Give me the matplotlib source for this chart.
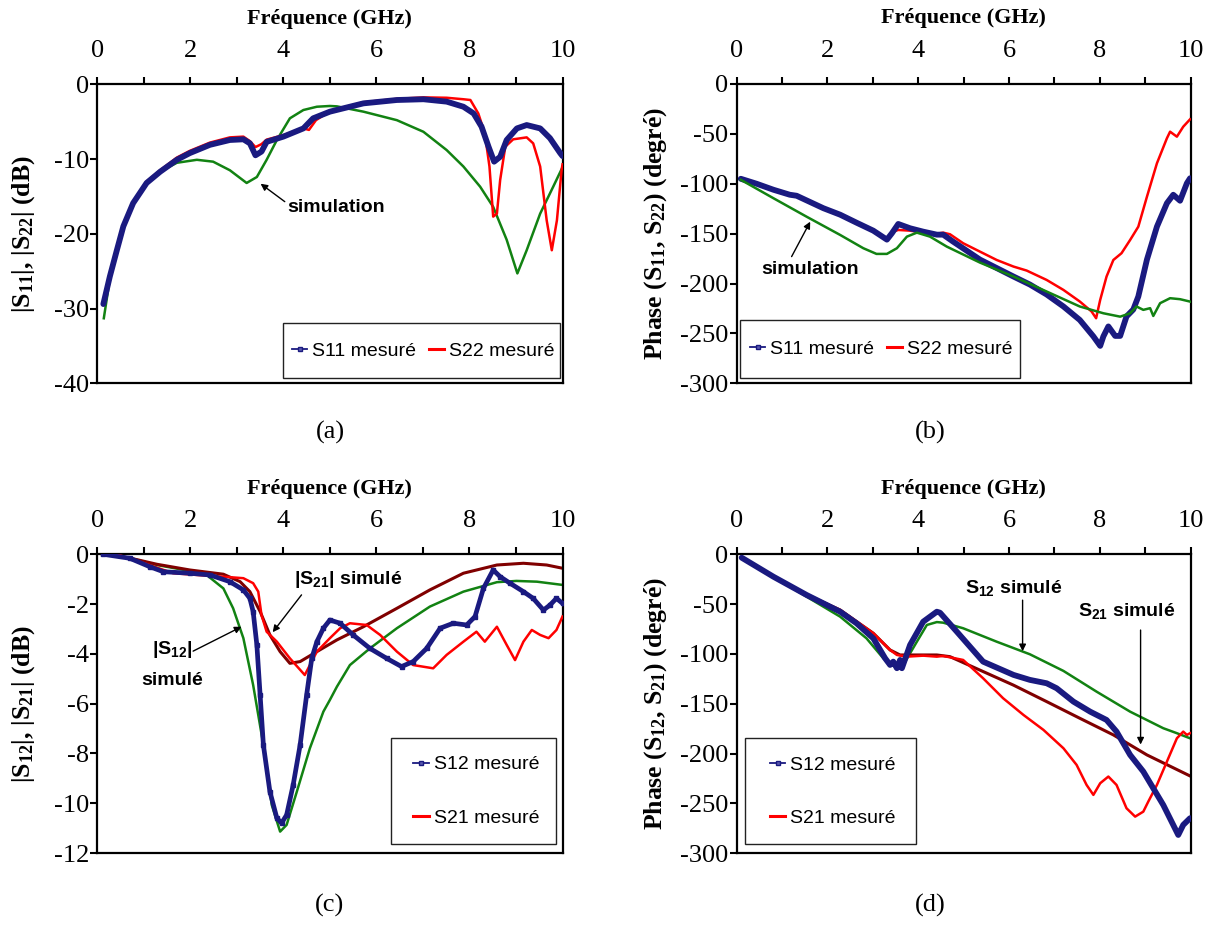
import matplotlib
matplotlib.use("Agg")
import matplotlib.pyplot as plt
from matplotlib.lines import Line2D
from matplotlib.patches import Rectangle

plt.rcParams['axes.unicode_minus'] = False
plt.rcParams['mathtext.fontset'] = 'custom'
plt.rcParams['mathtext.bf'] = 'Liberation Serif:bold'
plt.rcParams['mathtext.rm'] = 'Liberation Serif'
plt.rcParams['mathtext.sf'] = 'Liberation Sans:bold'
SERIF = ['Liberation Serif', 'DejaVu Serif']
SANS = ['Liberation Sans', 'DejaVu Sans']

NAVY = '#1a1a80'
RED = '#ff0000'
GREEN = '#128212'
DRED = '#800000'

# ---- (a) |S11|, |S22| ----
a_f_s11 = [0.13, 0.27, 0.42, 0.56, 0.77, 1.06, 1.35, 1.71, 1.99, 2.42, 2.85, 3.14, 3.28, 3.40, 3.53, 3.64,
           4.0, 4.43, 4.64, 5.0, 5.72, 6.44, 7.01, 7.51, 7.87, 8.09, 8.26, 8.41, 8.53, 8.66, 8.80, 9.02,
           9.23, 9.52, 9.73, 9.95, 10.0]
a_s11 = [-29.4, -25.7, -22.2, -19.0, -15.9, -13.2, -11.7, -10.1, -9.2, -8.1, -7.45, -7.36, -7.9, -9.5, -9.0, -7.7,
         -7.0, -5.9, -4.55, -3.66, -2.55, -2.1, -2.0, -2.32, -3.0, -3.9, -5.67, -8.35, -10.35, -9.7, -7.45, -5.9,
         -5.45, -5.9, -7.2, -9.2, -9.6]
a_f_s22 = [0.13, 0.27, 0.42, 0.56, 0.77, 1.06, 1.35, 1.71, 1.99, 2.42, 2.85, 3.14, 3.28, 3.40, 3.53, 3.64,
           4.0, 4.43, 4.55, 4.7, 5.0, 5.72, 6.44, 7.01, 7.51, 7.87, 8.02, 8.19, 8.33, 8.43, 8.51, 8.59, 8.66,
           8.77, 8.94, 9.23, 9.37, 9.52, 9.66, 9.77, 9.88, 9.98, 10.0]
a_s22 = [-29.5, -25.7, -22.1, -18.9, -15.8, -13.0, -11.5, -9.8, -8.9, -7.8, -7.1, -7.0, -7.6, -8.4, -8.0, -7.4,
         -6.8, -5.9, -6.1, -4.8, -3.6, -2.4, -1.95, -1.75, -1.8, -2.0, -2.1, -3.9, -6.55, -11.0, -17.7, -17.3, -12.8,
         -8.35, -7.36, -7.1, -7.9, -11.0, -18.2, -22.2, -18.2, -11.5, -10.7]
a_f_sim = [0.14, 0.27, 0.42, 0.56, 0.77, 1.06, 1.38, 1.71, 2.14, 2.49, 2.85, 3.21, 3.43, 3.64, 3.86, 4.14, 4.43,
           4.72, 5.0, 5.15, 5.72, 6.44, 7.01, 7.51, 7.87, 8.23, 8.51, 8.80, 9.03, 9.23, 9.52, 9.80, 10.0]
a_sim = [-31.3, -26.0, -22.4, -19.1, -15.9, -13.2, -11.6, -10.5, -10.1, -10.35, -11.5, -13.2, -12.4, -10.1, -7.45,
         -4.55, -3.44, -3.0, -2.9, -2.95, -3.66, -4.8, -6.35, -8.8, -11.0, -13.7, -16.4, -20.8, -25.3, -22.2, -17.3,
         -13.7, -11.1]

# ---- (b) phase S11, S22 ----
b_f_s11 = [0.09, 0.44, 0.81, 1.17, 1.32, 1.91, 2.28, 2.64, 3.01, 3.31, 3.42, 3.56, 3.82, 4.11, 4.41, 4.55, 4.77,
           5.36, 6.10, 6.46, 6.83, 7.20, 7.56, 7.86, 8.01, 8.08, 8.19, 8.34, 8.45, 8.59, 8.74, 8.85, 9.04, 9.26,
           9.48, 9.62, 9.77, 9.92, 9.99]
b_s11 = [-95, -100, -106, -111, -112, -124.5, -131, -139, -147, -156, -149.6, -140.3, -144.6, -148, -151, -151, -158,
         -176, -193, -201, -211, -223, -236.5, -253, -262.5, -253, -243, -252.5, -252.5, -233, -226, -213, -176, -143,
         -119.5, -111, -117, -99.5, -94.5]
b_f_s22 = [0.09, 0.44, 0.81, 1.17, 1.32, 1.91, 2.28, 2.64, 3.01, 3.31, 3.45, 3.56, 3.82, 4.11, 4.41, 4.55, 4.70,
           4.99, 5.36, 5.73, 6.10, 6.39, 6.83, 7.20, 7.56, 7.82, 7.92, 8.01, 8.15, 8.30, 8.48, 8.67, 8.85, 9.04,
           9.26, 9.48, 9.55, 9.70, 9.84, 9.99]
b_s22 = [-95, -100, -106, -111, -112, -124.5, -131, -139, -147, -156, -148, -146.3, -147, -149, -150, -149, -150.6,
         -159.6, -168, -176.4, -183, -187, -196.4, -206.4, -218, -228, -234.8, -216.4, -193, -176.4, -169.6, -156.3,
         -143, -113, -79.5, -54.4, -47.8, -52.8, -42.8, -35.4]
b_f_sim = [0.09, 0.81, 1.54, 2.28, 2.79, 3.08, 3.31, 3.53, 3.75, 3.97, 4.26, 4.63, 5.36, 6.10, 6.83, 7.56, 8.08,
           8.45, 8.67, 8.81, 8.96, 9.11, 9.18, 9.33, 9.55, 9.77, 9.99]
b_sim = [-96, -114.5, -133, -151.3, -164.6, -170.3, -170.3, -164.6, -153, -149, -153, -163, -179, -193, -208, -223,
         -229.8, -233.2, -229.8, -223, -226.4, -224.7, -232.5, -219.7, -214.7, -215.7, -218.1]

# ---- (c) |S12|, |S21| ----
c_f_s12 = [0.13, 0.70, 1.13, 1.42, 1.99, 2.42, 2.85, 3.14, 3.28, 3.35, 3.43, 3.50, 3.57, 3.71, 3.86, 3.96, 4.07,
           4.21, 4.36, 4.50, 4.61, 4.72, 4.86, 5.0, 5.22, 5.50, 5.86, 6.22, 6.54, 6.79, 7.08, 7.37, 7.65, 7.94,
           8.12, 8.30, 8.51, 8.66, 8.87, 9.16, 9.37, 9.59, 9.73, 9.87, 10.0]
c_s12 = [0, -0.16, -0.5, -0.7, -0.76, -0.83, -1.1, -1.43, -1.77, -2.3, -3.64, -5.65, -7.66, -9.53, -10.6, -10.8,
         -10.47, -9.27, -7.66, -5.65, -4.18, -3.51, -2.97, -2.64, -2.77, -3.24, -3.78, -4.18, -4.51, -4.31, -3.78,
         -2.97, -2.77, -2.84, -2.5, -1.37, -0.63, -0.9, -1.16, -1.5, -1.77, -2.24, -2.04, -1.77, -1.97]
c_f_s21 = [0.13, 0.5, 0.92, 1.63, 2.14, 2.71, 3.14, 3.35, 3.46, 3.53, 3.64, 3.86, 4.14, 4.46, 4.57, 4.72, 5.0,
           5.22, 5.43, 5.79, 6.08, 6.44, 6.79, 7.22, 7.51, 7.87, 8.15, 8.33, 8.59, 8.80, 8.98, 9.16, 9.34, 9.52,
           9.70, 9.87, 10.0]
c_s21 = [0, -0.05, -0.3, -0.76, -0.83, -0.9, -0.96, -1.16, -1.5, -2.44, -3.11, -3.51, -4.18, -4.85, -4.45, -3.91,
         -3.37, -2.97, -2.77, -2.84, -3.24, -3.91, -4.45, -4.58, -4.04, -3.51, -3.11, -3.51, -2.91, -3.64, -4.25,
         -3.51, -3.04, -3.24, -3.37, -3.04, -2.5]
c_f_s12sim = [0.13, 0.7, 1.28, 1.99, 2.35, 2.71, 2.92, 3.14, 3.35, 3.57, 3.75, 3.93, 4.07, 4.29, 4.57, 4.86, 5.0,
              5.15, 5.43, 5.86, 6.44, 7.15, 7.87, 8.59, 9.01, 9.45, 10.0]
c_s12sim = [0, -0.15, -0.43, -0.67, -0.83, -1.37, -2.17, -3.37, -5.25, -7.66, -10.07, -11.14, -10.87, -9.53, -7.79,
            -6.32, -5.85, -5.32, -4.45, -3.78, -2.97, -2.1, -1.5, -1.12, -1.07, -1.1, -1.23]
c_f_s21sim = [0.13, 0.7, 1.28, 1.99, 2.71, 3.07, 3.28, 3.50, 3.71, 3.93, 4.14, 4.36, 4.72, 5.15, 5.72, 6.44, 7.15,
              7.87, 8.59, 9.16, 9.66, 10.0]
c_s21sim = [0, -0.15, -0.4, -0.63, -0.8, -1.1, -1.5, -2.3, -3.24, -3.91, -4.38, -4.31, -3.91, -3.44, -2.91, -2.17,
            -1.43, -0.76, -0.43, -0.36, -0.43, -0.56]

# ---- (d) phase S12, S21 ----
d_f_s12 = [0.11, 0.81, 1.54, 2.28, 2.64, 3.01, 3.27, 3.38, 3.45, 3.53, 3.60, 3.64, 3.82, 4.11, 4.41, 4.48, 4.85,
           5.43, 6.10, 6.46, 6.83, 7.05, 7.42, 7.79, 8.15, 8.37, 8.67, 8.96, 9.40, 9.73, 9.84, 9.99]
d_s12 = [-3.4, -22.5, -40.8, -57.6, -69.2, -84.3, -104.3, -111, -107.7, -114.3, -106, -114.3, -91, -67.6, -57.6,
         -58.6, -77.6, -107.7, -121, -126, -129.4, -134.4, -147.8, -157.9, -166.2, -177.9, -201.3, -218, -251.5,
         -281.6, -271.5, -264.8]
d_f_s21 = [0.11, 0.81, 1.54, 2.28, 3.01, 3.38, 3.53, 3.75, 4.11, 4.41, 4.55, 4.99, 5.43, 5.87, 6.32, 6.76, 7.20,
           7.49, 7.71, 7.86, 8.01, 8.19, 8.37, 8.59, 8.78, 8.96, 9.07, 9.26, 9.48, 9.70, 9.84, 9.92, 9.99]
d_s21 = [-3.4, -22.5, -40.5, -55.9, -79.2, -96, -101, -102.7, -101.7, -102.7, -102, -106, -124.4, -144.4, -161.2,
         -176.2, -194.6, -211.3, -231.4, -241.4, -229.7, -223, -231.4, -254.8, -263.2, -258.2, -248.1, -231.4, -208,
         -184.6, -177.9, -181.2, -179.5]
d_f_s12sim = [0.11, 0.81, 1.54, 2.28, 2.86, 3.23, 3.53, 3.67, 3.97, 4.19, 4.41, 4.55, 4.99, 5.73, 6.46, 7.20, 7.93,
              8.67, 9.40, 9.70, 9.99]
d_s12sim = [-3.4, -22.5, -42.5, -62.6, -84.3, -104.3, -114.3, -111, -87.7, -70.9, -68, -68.6, -74.2, -87.7, -100.3,
            -117, -137.8, -157.9, -174.5, -179.5, -184.6]
d_f_s21sim = [0.11, 0.81, 1.54, 2.28, 3.01, 3.38, 3.60, 4.11, 4.41, 4.70, 5.36, 6.10, 6.83, 7.56, 8.30, 9.04, 9.99]
d_s21sim = [-3.4, -22.5, -40.5, -55.9, -79.2, -96, -101, -101, -101, -102.7, -116.2, -131.3, -147.8, -164.5, -181.2,
            -201.3, -222.4]

x_ticks = list(range(0, 11))
x_labels = ['0', '', '2', '', '4', '', '6', '', '8', '', '10']

fig = plt.figure(figsize=(12.12, 9.33), dpi=100)
W, H = 1212.0, 933.0


def make_axes(x0, x1, y0, y1):
    return fig.add_axes([x0 / W, 1 - y1 / H, (x1 - x0) / W, (y1 - y0) / H])


def style(ax, ylim, yticks, ylabel, ylab_x):
    ax.set_xlim(0, 10)
    ax.set_ylim(*ylim)
    ax.xaxis.tick_top()
    ax.set_xticks(x_ticks)
    ax.set_xticklabels(x_labels)
    ax.set_yticks(yticks)
    ax.set_yticklabels([str(v) for v in yticks])
    ax.tick_params(axis='x', direction='out', length=5, width=1.5, pad=11, labelsize=19)
    ax.tick_params(axis='y', direction='out', length=5, width=1.5, pad=1, labelsize=19)
    for lab in ax.get_xticklabels() + ax.get_yticklabels():
        lab.set_family(SERIF)
    for sp in ax.spines.values():
        sp.set_linewidth(1.6)
    ax.text(0.5, 1.22, 'Fréquence (GHz)', transform=ax.transAxes, ha='center', va='center',
            fontsize=16, fontweight='bold', family=SERIF)
    ax.set_ylabel(ylabel, fontsize=18.5, fontweight='bold', family=SERIF)
    ax.yaxis.set_label_coords(ylab_x, 0.5)


def legend_box(ax, labels, x_handle, ys, ncol, box):
    handles = [Line2D([], [], color=NAVY, lw=1.3, marker='s', ms=3.5, mfc='#5a5ab0', mec=NAVY, label=labels[0]),
               Line2D([], [], color=RED, lw=2.2, label=labels[1])]
    leg = ax.legend(handles=handles, ncol=ncol, loc='center left', bbox_to_anchor=(x_handle, ys),
                    frameon=False, borderpad=0, borderaxespad=0, prop={'family': SANS, 'size': 14},
                    handlelength=0.8, handletextpad=0.25, columnspacing=0.65, labelspacing=1.83)
    ax.add_patch(Rectangle((box[0], box[1]), box[2], box[3], transform=ax.transAxes, fill=False,
                           lw=1.0, edgecolor='#222222', clip_on=False, zorder=6))
    return leg


meas_kw = dict(lw=4.2, solid_capstyle='round', zorder=4)
red_kw = dict(lw=1.8, zorder=3)
sim_kw = dict(lw=1.8, zorder=2)
ann_kw = dict(fontsize=14, fontweight='bold', family=SANS)
arr = dict(arrowstyle='-|>', color='black', lw=1.0, mutation_scale=10, shrinkA=0, shrinkB=0)

# (a)
ax = make_axes(97.3, 562.5, 84.3, 383.3)
style(ax, (-40, 0), [0, -10, -20, -30, -40],
      r'|S$\mathbf{_{11}}$|, |S$\mathbf{_{22}}$| (dB)', -0.13)
ax.plot(a_f_sim, a_sim, color=GREEN, **sim_kw)
ax.plot(a_f_s22, a_s22, color=RED, **red_kw)
ax.plot(a_f_s11, a_s11, color=NAVY, **meas_kw)
ax.annotate('', xy=(3.51, -13.3), xytext=(4.03, -15.7), arrowprops=arr)
ax.text(4.08, -16.5, 'simulation', ha='left', va='center', **ann_kw)
legend_box(ax, ['S11 mesuré', 'S22 mesuré'], 0.418, 0.109, 2, (0.40, 0.018, 0.595, 0.184))
fig.text(330 / W, 1 - 432 / H, '(a)', ha='center', va='center', fontsize=19, family=SERIF)

# (b)
ax = make_axes(736.7, 1190.5, 84.0, 383.3)
style(ax, (-300, 0), [0, -50, -100, -150, -200, -250, -300],
      r'Phase (S$\mathbf{_{11}}$, S$\mathbf{_{22}}$) (degré)', -0.15)
ax.plot(b_f_s22, b_s22, color=RED, **red_kw)
ax.plot(b_f_s11, b_s11, color=NAVY, **meas_kw)
ax.plot(b_f_sim, b_sim, color=GREEN, lw=1.8, zorder=5)
ax.annotate('', xy=(1.62, -138), xytext=(1.21, -173), arrowprops=arr)
ax.text(0.55, -186.4, 'simulation', ha='left', va='center', **ann_kw)
legend_box(ax, ['S11 mesuré', 'S22 mesuré'], 0.029, 0.114, 2, (0.007, 0.017, 0.617, 0.195))
fig.text(930 / W, 1 - 432 / H, '(b)', ha='center', va='center', fontsize=19, family=SERIF)

# (c)
ax = make_axes(97.3, 562.5, 554.3, 853.0)
style(ax, (-12, 0), [0, -2, -4, -6, -8, -10, -12],
      r'|S$\mathbf{_{12}}$|, |S$\mathbf{_{21}}$| (dB)', -0.13)
ax.plot(c_f_s12sim, c_s12sim, color=GREEN, **sim_kw)
ax.plot(c_f_s21sim, c_s21sim, color=DRED, lw=2.2, zorder=2)
ax.plot(c_f_s21, c_s21, color=RED, **red_kw)
ax.plot(c_f_s12, c_s12, color=NAVY, lw=3.4, marker='s', ms=3, zorder=4)
ax.annotate('', xy=(3.77, -3.13), xytext=(4.39, -1.63), arrowprops=arr)
ax.text(4.23, -1.03, r'|S$\mathsf{_{21}}$| simulé', ha='left', va='center', **ann_kw)
ax.annotate('', xy=(3.10, -2.91), xytext=(2.06, -3.89), arrowprops=arr)
ax.text(1.6, -3.84, r'|S$\mathsf{_{12}}$|', ha='center', va='center', **ann_kw)
ax.text(1.6, -5.05, 'simulé', ha='center', va='center', **ann_kw)
legend_box(ax, ['S12 mesuré', 'S21 mesuré'], 0.679, 0.207, 1, (0.632, 0.03, 0.355, 0.355))
fig.text(330 / W, 1 - 905 / H, '(c)', ha='center', va='center', fontsize=19, family=SERIF)

# (d)
ax = make_axes(736.7, 1190.5, 554.3, 853.3)
style(ax, (-300, 0), [0, -50, -100, -150, -200, -250, -300],
      r'Phase (S$\mathbf{_{12}}$, S$\mathbf{_{21}}$) (degré)', -0.15)
ax.plot(d_f_s12sim, d_s12sim, color=GREEN, **sim_kw)
ax.plot(d_f_s21sim, d_s21sim, color=DRED, lw=2.2, zorder=2)
ax.plot(d_f_s21, d_s21, color=RED, **red_kw)
ax.plot(d_f_s12, d_s12, color=NAVY, **meas_kw)
ax.annotate('', xy=(6.30, -97.3), xytext=(6.30, -46), arrowprops=arr)
ax.text(6.10, -33.5, r'S$\mathsf{_{12}}$ simulé', ha='center', va='center', **ann_kw)
ax.annotate('', xy=(8.90, -190.9), xytext=(8.90, -76), arrowprops=arr)
ax.text(8.59, -57, r'S$\mathsf{_{21}}$ simulé', ha='center', va='center', **ann_kw)
legend_box(ax, ['S12 mesuré', 'S21 mesuré'], 0.073, 0.207, 1, (0.018, 0.03, 0.377, 0.355))
fig.text(930 / W, 1 - 905 / H, '(d)', ha='center', va='center', fontsize=19, family=SERIF)

fig.savefig('out.png', dpi=100)
